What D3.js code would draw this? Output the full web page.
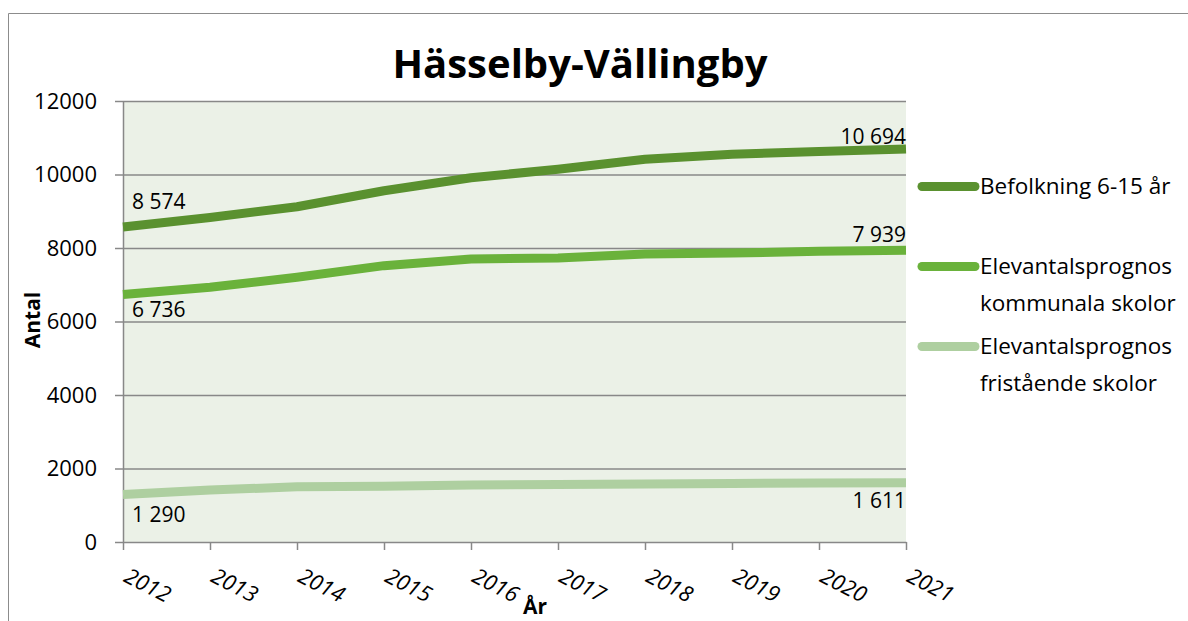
<!DOCTYPE html>
<html>
<head>
<meta charset="utf-8">
<script src="https://cdn.jsdelivr.net/npm/d3@7"></script>
<style>
  body { margin: 0; background: #fff; }
  svg { display: block; font-family: "Open Sans", sans-serif; }
</style>
</head>
<body>
<svg id="chart" width="1188" height="621"></svg>
<script>
const years = [2012, 2013, 2014, 2015, 2016, 2017, 2018, 2019, 2020, 2021];
const befolkning = [8574, 8832, 9122, 9557, 9910, 10145, 10417, 10553, 10624, 10694];
const kommunala = [6736, 6932, 7204, 7520, 7702, 7729, 7837, 7864, 7910, 7939];
const fristaende = [1290, 1412, 1502, 1520, 1548, 1566, 1575, 1595, 1605, 1611];
const yTicks = [0, 2000, 4000, 6000, 8000, 10000, 12000];
const seriesNames = [
  ['Befolkning 6-15 år'],
  ['Elevantalsprognos', 'kommunala skolor'],
  ['Elevantalsprognos', 'fristående skolor'],
];

// label offsets: first point label / last point label (px from the line)
const series = [
  { values: befolkning, color: '#5a912f', firstDy: -18, lastDy: -5 },
  { values: kommunala, color: '#6ab23b', firstDy: 23, lastDy: -8 },
  { values: fristaende, color: '#aecfa0', firstDy: 27, lastDy: 25 },
];

const svg = d3.select('#chart');
const plot = { left: 123, right: 906, top: 101, bottom: 542 };
const axisColor = '#888';

const x = d3.scalePoint().domain(years).range([plot.left, plot.right]);
const y = d3.scaleLinear().domain([0, 12000]).range([plot.bottom, plot.top]);

const fmt = d3.formatLocale({ decimal: ',', thousands: ' ', grouping: [3] }).format(',d');

// outer chart frame (cropped at right and bottom)
svg.append('path')
  .attr('d', 'M8.5,621 V13.5 H1188')
  .attr('fill', 'none')
  .attr('stroke', '#8c8c8c')
  .attr('stroke-width', 1);

svg.append('text')
  .attr('x', 580).attr('y', 78)
  .attr('text-anchor', 'middle')
  .attr('font-size', 40).attr('font-weight', 700)
  .text('Hässelby-Vällingby');

svg.append('rect')
  .attr('x', plot.left).attr('y', plot.top)
  .attr('width', plot.right - plot.left).attr('height', plot.bottom - plot.top)
  .attr('fill', '#ebf1e7');

// gridlines
svg.append('g')
  .attr('transform', `translate(${plot.left},0)`)
  .call(d3.axisLeft(y).tickValues(yTicks.slice(1)).tickSize(-(plot.right - plot.left)).tickFormat(''))
  .call(g => g.select('.domain').remove())
  .call(g => g.selectAll('line').attr('stroke', axisColor).attr('stroke-width', 1.5));

// y axis
svg.append('g')
  .attr('transform', `translate(${plot.left},0)`)
  .call(d3.axisLeft(y).tickValues(yTicks).tickSize(8).tickSizeOuter(0).tickPadding(18).tickFormat(d3.format('d')))
  .call(g => g.select('.domain').attr('stroke', axisColor).attr('stroke-width', 1.5))
  .call(g => g.selectAll('line').attr('stroke', axisColor).attr('stroke-width', 1.5))
  .call(g => g.selectAll('text').attr('font-size', 22).attr('fill', '#000').attr('font-family', '"Open Sans", sans-serif'));

// x axis
const xAxis = svg.append('g')
  .attr('transform', `translate(0,${plot.bottom})`)
  .call(d3.axisBottom(x).tickSize(8).tickSizeOuter(0))
  .call(g => g.select('.domain').attr('stroke', axisColor).attr('stroke-width', 1.5))
  .call(g => g.selectAll('line').attr('stroke', axisColor).attr('stroke-width', 1.5));
xAxis.selectAll('text')
  .attr('font-size', 22).attr('font-style', 'italic').attr('fill', '#000')
  .attr('font-family', '"Open Sans", sans-serif')
  .attr('text-anchor', 'start')
  .attr('dy', null).attr('y', null)
  .attr('transform', 'translate(-1,39) rotate(27)');

svg.append('text')
  .attr('transform', 'translate(40,320) rotate(-90)')
  .attr('text-anchor', 'middle')
  .attr('font-size', 21).attr('font-weight', 700)
  .text('Antal');

svg.append('text')
  .attr('x', 535).attr('y', 614)
  .attr('text-anchor', 'middle')
  .attr('font-size', 21).attr('font-weight', 700)
  .text('År');

const line = d3.line()
  .x((d, i) => x(years[i]))
  .y(d => y(d));

svg.append('g').selectAll('path')
  .data(series)
  .join('path')
  .attr('d', s => line(s.values))
  .attr('fill', 'none')
  .attr('stroke', s => s.color)
  .attr('stroke-width', 9)
  .attr('stroke-linejoin', 'round');

const labels = svg.append('g').attr('font-size', 21).attr('fill', '#000');
series.forEach(s => {
  const n = s.values.length;
  labels.append('text')
    .attr('x', x(years[0]) + 9)
    .attr('y', y(s.values[0]) + s.firstDy)
    .text(fmt(s.values[0]));
  labels.append('text')
    .attr('x', x(years[n - 1]))
    .attr('y', y(s.values[n - 1]) + s.lastDy)
    .attr('text-anchor', 'end')
    .text(fmt(s.values[n - 1]));
});

// legend
const legendRows = [186.5, 266.5, 346.5];
const legend = svg.append('g');
series.forEach((s, i) => {
  const g = legend.append('g').attr('transform', `translate(0,${legendRows[i]})`);
  g.append('line')
    .attr('x1', 922).attr('x2', 975)
    .attr('stroke', s.color).attr('stroke-width', 9).attr('stroke-linecap', 'round');
  g.selectAll('text')
    .data(seriesNames[i])
    .join('text')
    .attr('x', 980)
    .attr('y', (d, j) => 7.5 + j * 37)
    .attr('font-size', 22.5)
    .text(d => d);
});
</script>
</body>
</html>
